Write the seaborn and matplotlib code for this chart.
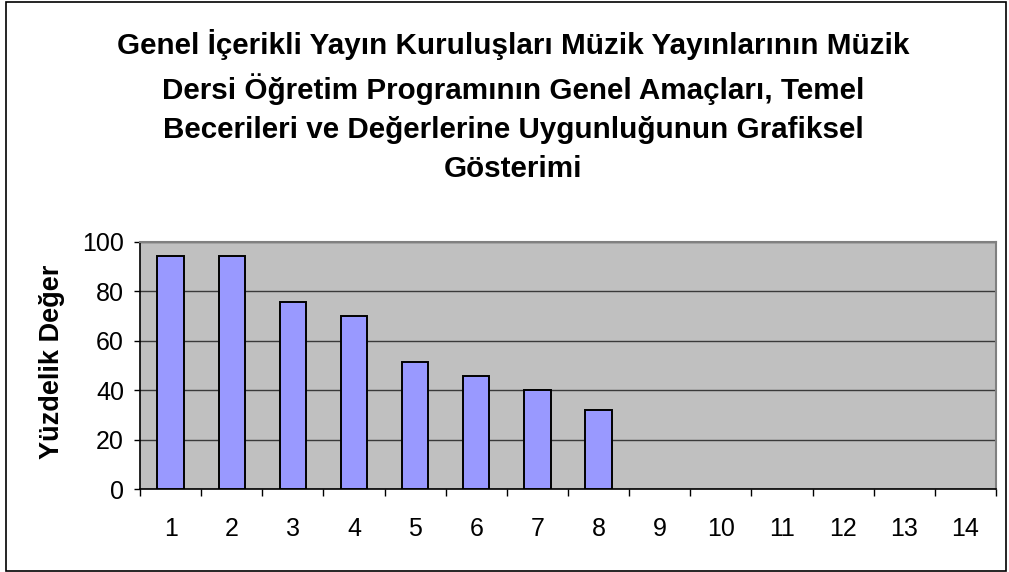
import matplotlib
matplotlib.use("Agg")
import matplotlib.pyplot as plt
import seaborn as sns
import numpy as np
import pandas as pd
from matplotlib.patches import Rectangle
from matplotlib.ticker import FixedLocator, NullFormatter

categories = [str(i) for i in range(1, 15)]
values = [94.3, 94.3, 75.5, 69.8, 51.4, 45.8, 40.0, 32.1,
          np.nan, np.nan, np.nan, np.nan, np.nan, np.nan]
y_ticks = [0, 20, 40, 60, 80, 100]

title = ("Genel İçerikli Yayın Kuruluşları Müzik Yayınlarının Müzik\n"
         "Dersi Öğretim Programının Genel Amaçları, Temel\n"
         "Becerileri ve Değerlerine Uygunluğunun Grafiksel\n"
         "Gösterimi")
y_label = "Yüzdelik Değer"

sns.set_theme(style="white")
plt.rcParams["font.family"] = ["Liberation Sans", "DejaVu Sans"]
plt.rcParams["text.color"] = "black"
plt.rcParams["xtick.color"] = "black"
plt.rcParams["ytick.color"] = "black"

df = pd.DataFrame({"kategori": categories, "deger": values})

W, H = 1009, 572
fig = plt.figure(figsize=(W / 100, H / 100), dpi=100)
ax = fig.add_axes([140 / W, 1 - 489.3 / H, 856 / W, (489.3 - 241.7) / H])

sns.barplot(data=df, x="kategori", y="deger", order=categories, ax=ax,
            color="#9999FF", saturation=1, width=0.43,
            edgecolor="black", linewidth=1.4, zorder=3)

ax.set_facecolor("#C0C0C0")
ax.set_xlim(-0.5, len(categories) - 0.5)
ax.set_ylim(0, 100)

# horizontal gridlines
ax.set_yticks(y_ticks)
ax.set_yticklabels([str(t) for t in y_ticks], fontsize=18)
ax.yaxis.grid(True, color="#3a3a3a", linewidth=1.0, zorder=1)
ax.xaxis.grid(False)
ax.set_axisbelow(True)

# category ticks sit on the boundaries, labels in the middle
n = len(categories)
ax.xaxis.set_major_locator(FixedLocator(np.arange(n + 1) - 0.5))
ax.xaxis.set_major_formatter(NullFormatter())
ax.xaxis.set_minor_locator(FixedLocator(np.arange(n)))
ax.set_xticklabels(categories, minor=True, fontsize=18)
ax.tick_params(axis="x", which="major", length=5, width=1, color="black",
               direction="out", bottom=True)
ax.tick_params(axis="x", which="minor", length=0, pad=20, bottom=True)
ax.tick_params(axis="y", length=4.5, width=1, color="black", direction="out",
               left=True, pad=7)

for side in ("left", "bottom"):
    ax.spines[side].set_color("black")
    ax.spines[side].set_linewidth(1.2)
for side in ("top", "right"):
    ax.spines[side].set_color("#808080")
    ax.spines[side].set_linewidth(1.5)
    ax.spines[side].set_visible(True)

ax.set_xlabel("")
ax.set_ylabel("")
fig.text(52 / W, 1 - 362 / H, y_label, rotation=90, ha="center", va="center",
         fontsize=19.5, fontweight="bold")

fig.text(513 / W, 1 - 106 / H, title, ha="center", va="center",
         fontsize=21.3, fontweight="bold", linespacing=1.5)

# outer chart frame
fig.patches.append(Rectangle((6 / W, 1 / H), 1000 / W, 569 / H,
                             transform=fig.transFigure, fill=False,
                             edgecolor="black", linewidth=1.2))

fig.savefig("out.png", dpi=100)
